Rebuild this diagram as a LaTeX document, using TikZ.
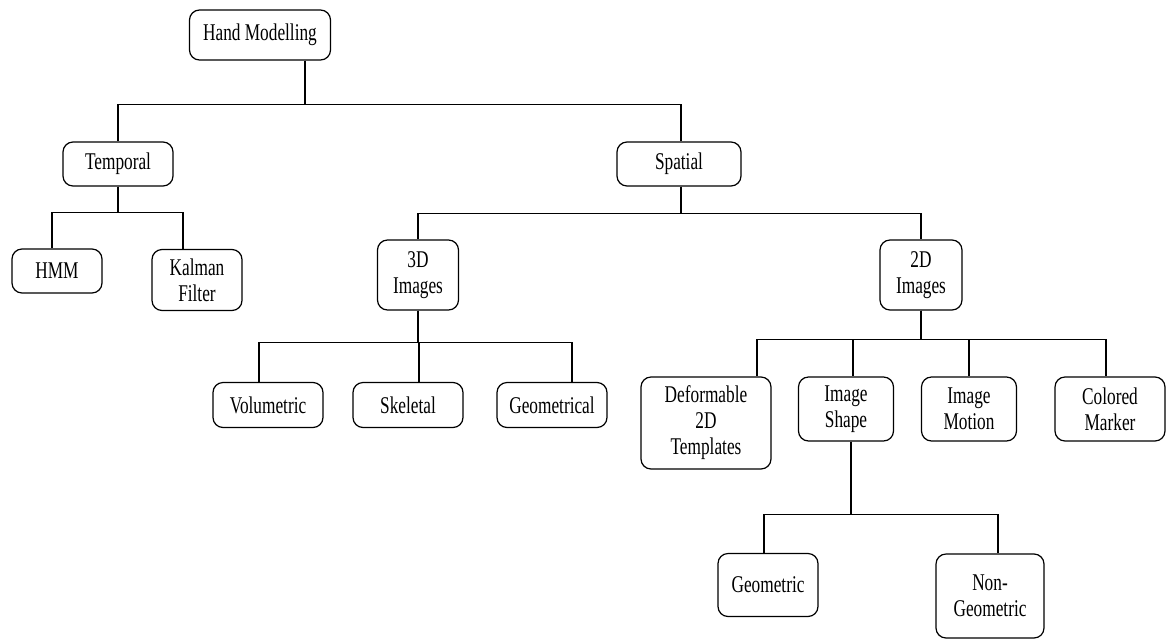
\documentclass[tikz,border=0pt]{standalone}
\usepackage{fontspec}
\setmainfont{Liberation Serif}[FakeStretch=0.72]
\usepackage{tikz}

\tikzset{
  box/.style={draw, rounded corners=10pt, align=center, inner sep=2pt,
    font=\fontsize{24}{26}\selectfont}
}

\begin{document}
\begin{tikzpicture}[x=1pt, y=-1pt, line width=1.2pt]
\useasboundingbox (0,0) rectangle (1168,641);

% top level
\node[box, minimum width=141, minimum height=50] (hm) at (260,35) {Hand Modelling};
\node[box, minimum width=110, minimum height=44] (temp) at (118,164) {Temporal};
\node[box, minimum width=124, minimum height=44] (spat) at (679,164) {Spatial};

% temporal branch
\node[box, minimum width=90, minimum height=44] (hmm) at (57,271) {HMM};
\node[box, minimum width=90, minimum height=61] (kal) at (197,280) {Kalman\\Filter};

% spatial branch
\node[box, minimum width=81, minimum height=70] (img3d) at (418,275) {3D\\Images};
\node[box, minimum width=82, minimum height=70] (img2d) at (921,275) {2D\\Images};

\node[box, minimum width=110, minimum height=45] (vol) at (268,405) {Volumetric};
\node[box, minimum width=110, minimum height=45] (skel) at (408,405) {Skeletal};
\node[box, minimum width=110, minimum height=45] (geom) at (552,405) {Geometrical};

\node[box, minimum width=130, minimum height=92] (deform) at (706,423) {Deformable\\2D\\Templates};
\node[box, minimum width=95, minimum height=64] (ishape) at (846,409) {Image\\Shape};
\node[box, minimum width=95, minimum height=64] (imotion) at (969,409) {Image\\Motion};
\node[box, minimum width=110, minimum height=64] (cmark) at (1110,409) {Colored\\Marker};

\node[box, minimum width=100, minimum height=63] (geo) at (768,585) {Geometric};
\node[box, minimum width=108, minimum height=84] (nongeo) at (990,596) {Non-\\Geometric};

% connectors
\draw ([xshift=45]hm.south) -- ++(0,44) -| (temp.north);
\draw ([xshift=45]hm.south) -- ++(0,44) -| ([xshift=2]spat.north);

\draw (temp.south) -- ++(0,26) -| ([xshift=-5]hmm.north);
\draw (temp.south) -- ++(0,26) -| ([xshift=-14]kal.north);

\draw ([xshift=2]spat.south) -- ++(0,27) -| (img3d.north);
\draw ([xshift=2]spat.south) -- ++(0,27) -| (img2d.north);

\draw (img3d.south) -- ++(0,32) -| ([xshift=-9]vol.north);
\draw (img3d.south) -- ++(0,32) -| ([xshift=11]skel.north);
\draw (img3d.south) -- ++(0,32) -| ([xshift=20]geom.north);

\draw (img2d.south) -- ++(0,29) -| ([xshift=51]deform.north);
\draw (img2d.south) -- ++(0,29) -| ([xshift=7]ishape.north);
\draw (img2d.south) -- ++(0,29) -| (imotion.north);
\draw (img2d.south) -- ++(0,29) -| ([xshift=-4]cmark.north);

\draw ([xshift=5]ishape.south) -- ++(0,73) -| ([xshift=-4]geo.north);
\draw ([xshift=5]ishape.south) -- ++(0,73) -| ([xshift=8]nongeo.north);
\end{tikzpicture}
\end{document}
